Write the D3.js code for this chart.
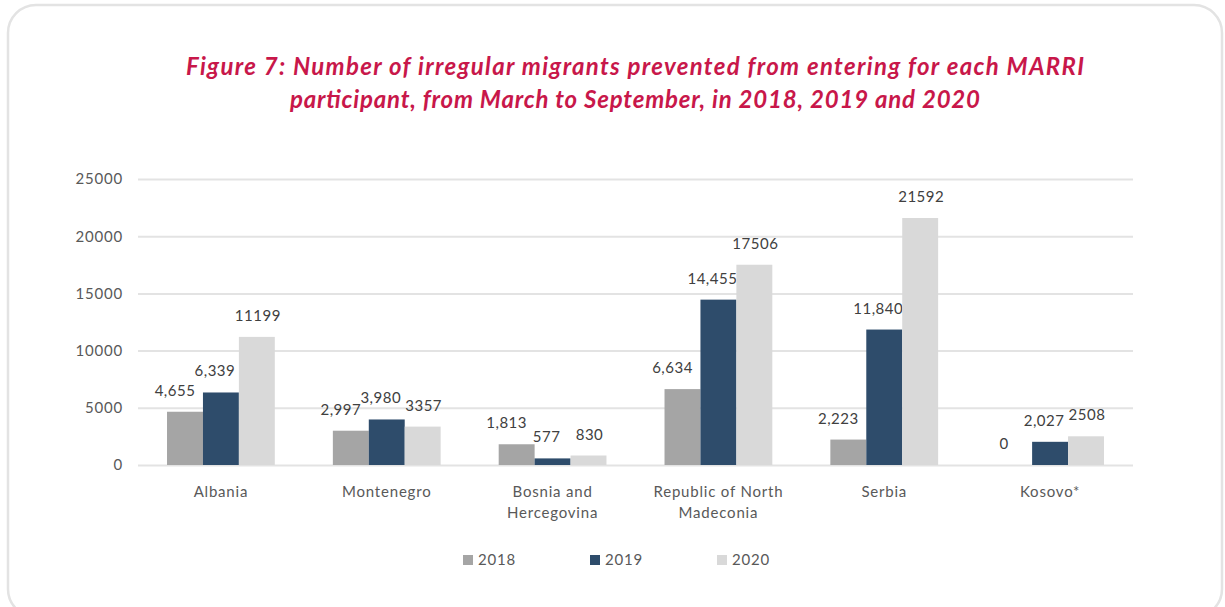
<!DOCTYPE html>
<html><head><meta charset="utf-8">
<script src="https://cdn.jsdelivr.net/npm/d3@7"></script>
<style>
html,body{margin:0;padding:0;background:#fff;}
svg{display:block;}
</style></head>
<body>
<svg id="chart" width="1225" height="607"></svg>
<script>
const categories = [["Albania"],["Montenegro"],["Bosnia and","Hercegovina"],["Republic of North","Madeconia"],["Serbia"],["Kosovo*"]];
const series = ["2018","2019","2020"];
const values2018 = [4655, 2997, 1813, 6634, 2223, 0];
const values2019 = [6339, 3980, 577, 14455, 11840, 2027];
const values2020 = [11199, 3357, 830, 17506, 21592, 2508];
const yTicks = [0, 5000, 10000, 15000, 20000, 25000];
const titleLines = ["Figure 7: Number of irregular migrants prevented from entering for each MARRI",
                    "participant, from March to September, in 2018, 2019 and 2020"];
const titleWidths = [898, 690];
const colors = ["#a5a5a5", "#2e4c6b", "#d9d9d9"];
const labelFormats = [d3.format(","), d3.format(","), d3.format("d")];
const labelDx = [-10, -6, 1];

const allValues = [values2018, values2019, values2020];
const svg = d3.select("#chart");
const FONT = "Lato, 'Open Sans', sans-serif";
const LS = "0.8px";

// card border
svg.append("rect").attr("x", 8).attr("y", 5).attr("width", 1214).attr("height", 612)
  .attr("rx", 28).attr("fill", "#fff").attr("stroke", "#e3e3e3").attr("stroke-width", 2.5);

// title
svg.append("g").selectAll("text").data(titleLines).join("text")
  .attr("x", 635).attr("y", (d, i) => 75 + i * 33)
  .attr("text-anchor", "middle")
  .attr("font-family", FONT).attr("font-style", "italic").attr("font-weight", "bold")
  .attr("font-size", 24).attr("fill", "#c8174a")
  .attr("textLength", (d, i) => titleWidths[i]).attr("lengthAdjust", "spacing")
  .text(d => d);

const x0 = d3.scaleBand().domain(d3.range(categories.length)).range([138, 1133]).padding(0);
const bw = x0.bandwidth();
const x1 = d3.scaleBand().domain(series).range([bw * 0.175, bw * 0.825]).padding(0);
const y = d3.scaleLinear().domain([0, 25000]).range([465, 179]);

// grid
const yAxis = d3.axisLeft(y).tickValues(yTicks).tickSize(-(1133 - 138)).tickPadding(15).tickFormat(d3.format("d"));
const gy = svg.append("g").attr("transform", "translate(138,0)").call(yAxis);
gy.select(".domain").remove();
gy.selectAll(".tick line").attr("stroke", "#e3e3e3").attr("stroke-width", 2);
gy.selectAll(".tick text").attr("font-family", FONT).attr("font-size", 15)
  .attr("letter-spacing", LS).attr("fill", "#595959");

// bars
const groups = svg.append("g").selectAll("g").data(categories).join("g")
  .attr("transform", (d, i) => `translate(${x0(i)},0)`);
groups.each(function (cat, ci) {
  const g = d3.select(this);
  series.forEach((s, si) => {
    const v = allValues[si][ci];
    g.append("rect").attr("x", x1(s)).attr("width", x1.bandwidth())
      .attr("y", y(v)).attr("height", y(0) - y(v)).attr("fill", colors[si]);
    g.append("text").attr("x", x1(s) + x1.bandwidth() / 2 + labelDx[si]).attr("y", y(v) - 16)
      .attr("text-anchor", "middle").attr("font-family", FONT).attr("font-size", 15)
      .attr("letter-spacing", "0.5px").attr("fill", "#404040").text(labelFormats[si](v));
  });
});

// category labels
const xAxis = svg.append("g");
categories.forEach((lines, i) => {
  xAxis.append("text").attr("x", x0(i) + bw / 2).attr("y", 497)
    .attr("text-anchor", "middle").attr("font-family", FONT).attr("font-size", 15)
    .attr("letter-spacing", LS).attr("fill", "#595959")
    .selectAll("tspan").data(lines).join("tspan")
    .attr("x", x0(i) + bw / 2).attr("dy", (d, j) => j === 0 ? 0 : 21).text(d => d);
});

// legend
const legendX = d3.scalePoint().domain(series).range([463, 717]);
const lg = svg.append("g").selectAll("g").data(series).join("g")
  .attr("transform", d => `translate(${legendX(d)},560)`);
lg.append("rect").attr("x", 0).attr("y", -5).attr("width", 10).attr("height", 10)
  .attr("fill", (d, i) => colors[i]);
lg.append("text").attr("x", 15).attr("y", 5).attr("font-family", FONT).attr("font-size", 15)
  .attr("letter-spacing", LS).attr("fill", "#595959").text(d => d);
</script>
</body></html>
